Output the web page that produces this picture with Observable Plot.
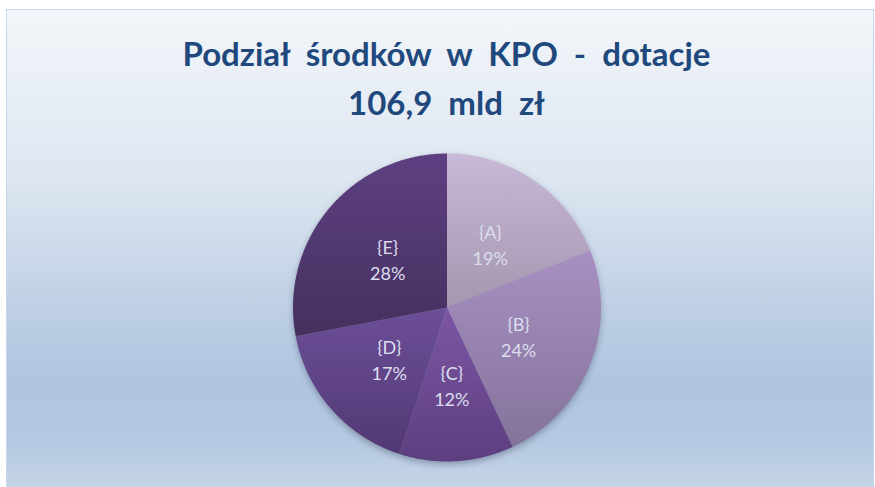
<!DOCTYPE html>
<html><head><meta charset="utf-8">
<script src="https://cdn.jsdelivr.net/npm/d3@7"></script>
<script src="https://cdn.jsdelivr.net/npm/@observablehq/plot@0.6"></script>
<style>
html,body{margin:0;padding:0;width:875px;height:487px;overflow:hidden;background:#fff;}
#frame{position:absolute;left:6px;top:9px;width:866px;height:478px;border:1px solid #c6d7ec;border-bottom:none;
background:linear-gradient(to bottom,#f3f6fa 0%,#dde6f1 35%,#c3d3e7 58%,#afc4df 78%,#b5c8e1 90%,#c6d6e9 100%);}
#title{position:absolute;left:0;top:29px;width:893px;text-align:center;font-family:Lato,"Open Sans",sans-serif;font-weight:bold;font-size:33px;line-height:49px;color:#1f497d;word-spacing:8px;}
#chart{position:absolute;left:0;top:130px;}
</style></head><body>
<div id="frame"></div>
<div id="title"></div>
<div id="chart"></div>
<script>
// ---- data ----
const titleLines = ["Podział środków w KPO - dotacje", "106,9 mld zł"];
const categories = ["{A}", "{B}", "{C}", "{D}", "{E}"];
const shares = [19, 24, 12, 17, 28];

// ---- styles ----
const gradTop = ["#c8bad8", "#a890c2", "#7c56a4", "#6c4f98", "#5e4082"];
const gradBottom = ["#a496ae", "#83739a", "#5d3f80", "#523874", "#45305e"];

document.getElementById("title").innerHTML = titleLines.join("<br>");

const total = d3.sum(shares);
const slices = [];
const labels = [];
let cum = 0;
categories.forEach((key, i) => {
  const a0 = 2 * Math.PI * cum / total;
  const a1 = 2 * Math.PI * (cum + shares[i]) / total;
  cum += shares[i];
  slices.push({key, x: 0, y: 0});
  const n = Math.max(2, Math.ceil((a1 - a0) / (Math.PI / 360)) + 1);
  for (let k = 0; k < n; k++) {
    const a = a0 + (a1 - a0) * k / (n - 1);
    slices.push({key, x: Math.sin(a), y: Math.cos(a)});
  }
  const am = (a0 + a1) / 2;
  labels.push({key, pct: shares[i], x: 0.5 * Math.sin(am), y: 0.5 * Math.cos(am)});
});

const svg = Plot.plot({
  width: 875,
  height: 357,
  marginLeft: 292.5,
  marginRight: 274.5,
  marginTop: 23,
  marginBottom: 26,
  x: {domain: [-1, 1], axis: null},
  y: {domain: [-1, 1], axis: null},
  color: {domain: categories, range: categories.map((c, i) => `url(#slice${i})`)},
  style: {background: "transparent", overflow: "visible"},
  marks: [
    Plot.line(slices, {x: "x", y: "y", z: "key", fill: "key", stroke: "none", curve: "linear-closed"}),
    Plot.text(labels, {
      x: "x", y: "y",
      text: d => d.key + "\n" + d.pct + "%",
      fill: "#dcdeee",
      fontSize: 18,
      lineHeight: 1.45,
      fontFamily: "Lato, 'Open Sans', sans-serif"
    })
  ]
});

const defs = d3.select(svg).insert("defs", ":first-child");
categories.forEach((c, i) => {
  const g = defs.append("linearGradient").attr("id", `slice${i}`)
    .attr("x1", 0).attr("y1", 0).attr("x2", 0).attr("y2", 1);
  g.append("stop").attr("offset", "0%").attr("stop-color", gradTop[i]);
  g.append("stop").attr("offset", "100%").attr("stop-color", gradBottom[i]);
});
const lineG = svg.querySelector('g[aria-label="line"]');
if (lineG) lineG.style.filter = "drop-shadow(0px 3px 3px rgba(40,50,70,0.35))";

document.getElementById("chart").appendChild(svg);
</script>
</body></html>
